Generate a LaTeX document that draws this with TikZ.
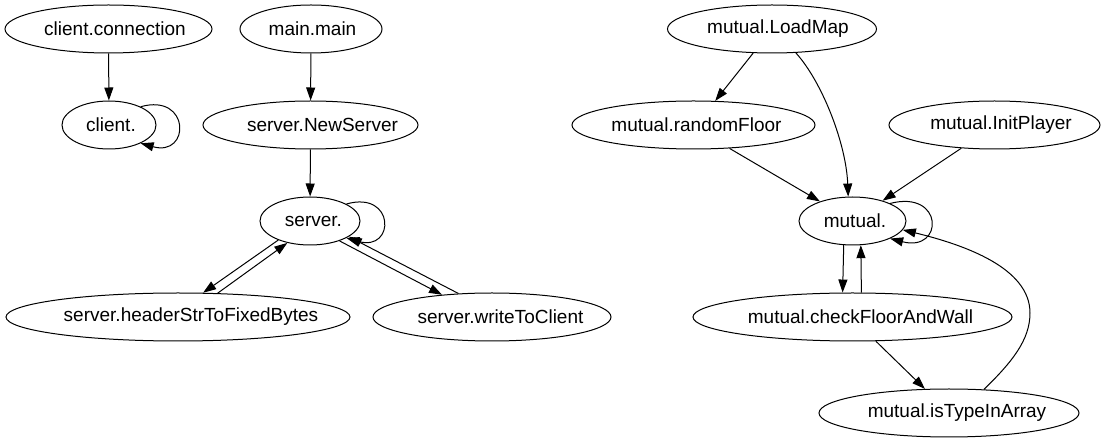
\documentclass[tikz,border=0pt]{standalone}
\usepackage{fontspec}
\setmainfont{Liberation Sans}
\usetikzlibrary{shapes.geometric,arrows.meta}
\newcommand{\lbl}[2]{\makebox[0pt]{\hspace*{#1pt}#2}}
\tikzset{
  fn/.style={draw, ellipse, line width=1pt, inner sep=0pt, minimum height=48pt,
    font=\fontsize{19}{22}\selectfont},
  edge/.style={draw, line width=1pt, -{Triangle[length=13pt,width=9pt]}},
}
\begin{document}
\begin{tikzpicture}[x=1pt,y=-1pt]
\useasboundingbox (0,0) rectangle (1104,443);
% nodes
\node[fn, minimum width=207pt] (cc) at (108.5,29) {\lbl{13}{client.connection}};
\node[fn, minimum width=142pt] (mm) at (311,29) {\lbl{3}{main.main}};
\node[fn, minimum width=94pt] (cl) at (109,125) {\lbl{4}{client.}};
\node[fn, minimum width=215pt] (ns) at (310.5,125) {\lbl{24}{server.NewServer}};
\node[fn, minimum width=100pt] (sv) at (310,221) {\lbl{7}{server.}};
\node[fn, minimum width=344pt] (hd) at (178,317) {\lbl{26}{server.headerStrToFixedBytes}};
\node[fn, minimum width=238pt] (wc) at (492,317) {\lbl{17}{server.writeToClient}};
\node[fn, minimum width=209pt] (lm) at (772,29) {\lbl{12}{mutual.LoadMap}};
\node[fn, minimum width=243pt] (rf) at (693.5,125) {\lbl{6}{mutual.randomFloor}};
\node[fn, minimum width=211pt] (ip) at (994.5,125) {\lbl{13}{mutual.InitPlayer}};
\node[fn, minimum width=107pt] (mu) at (852.5,221) {\lbl{5}{mutual.}};
\node[fn, minimum width=319pt] (cf) at (852.5,317) {\lbl{16}{mutual.checkFloorAndWall}};
\node[fn, minimum width=260pt] (it) at (949,413) {\lbl{16}{mutual.isTypeInArray}};
% left group
\draw[edge] (cc) -- (cl);
\draw[edge] (cl.30) .. controls +(50,-14) and +(50,14) .. (cl.-30);
\draw[edge] (mm) -- (ns);
\draw[edge] (ns) -- (sv);
\draw[edge] (sv.25) .. controls +(49,-14) and +(49,14) .. (sv.-25);
\draw[edge] (sv.211) -- (hd.44);
\draw[edge] (hd.31) -- (sv.224);
\draw[edge] (sv.326) -- (wc.156);
\draw[edge] (wc.145) -- (sv.338);
% right group
\draw[edge] (lm.232) -- (rf.48);
\draw[edge] (lm.315) .. controls +(27,30) and +(-2,-52) .. (mu.100);
\draw[edge] (rf.327) -- (mu.149);
\draw[edge] (ip.215) -- (mu.34);
\draw[edge] (mu.25) .. controls +(54,-14) and +(54,14) .. (mu.-25);
\draw[edge] (mu.250) -- (cf.112);
\draw[edge] (cf.70) -- (mu.289);
\draw[edge] (cf.314) -- (it.135);
\draw[edge] (it.34) .. controls (1012,362) and (1030,340) .. (1030,313)
  .. controls (1030,268) and (965,245) .. (mu.-10);
\end{tikzpicture}
\end{document}
